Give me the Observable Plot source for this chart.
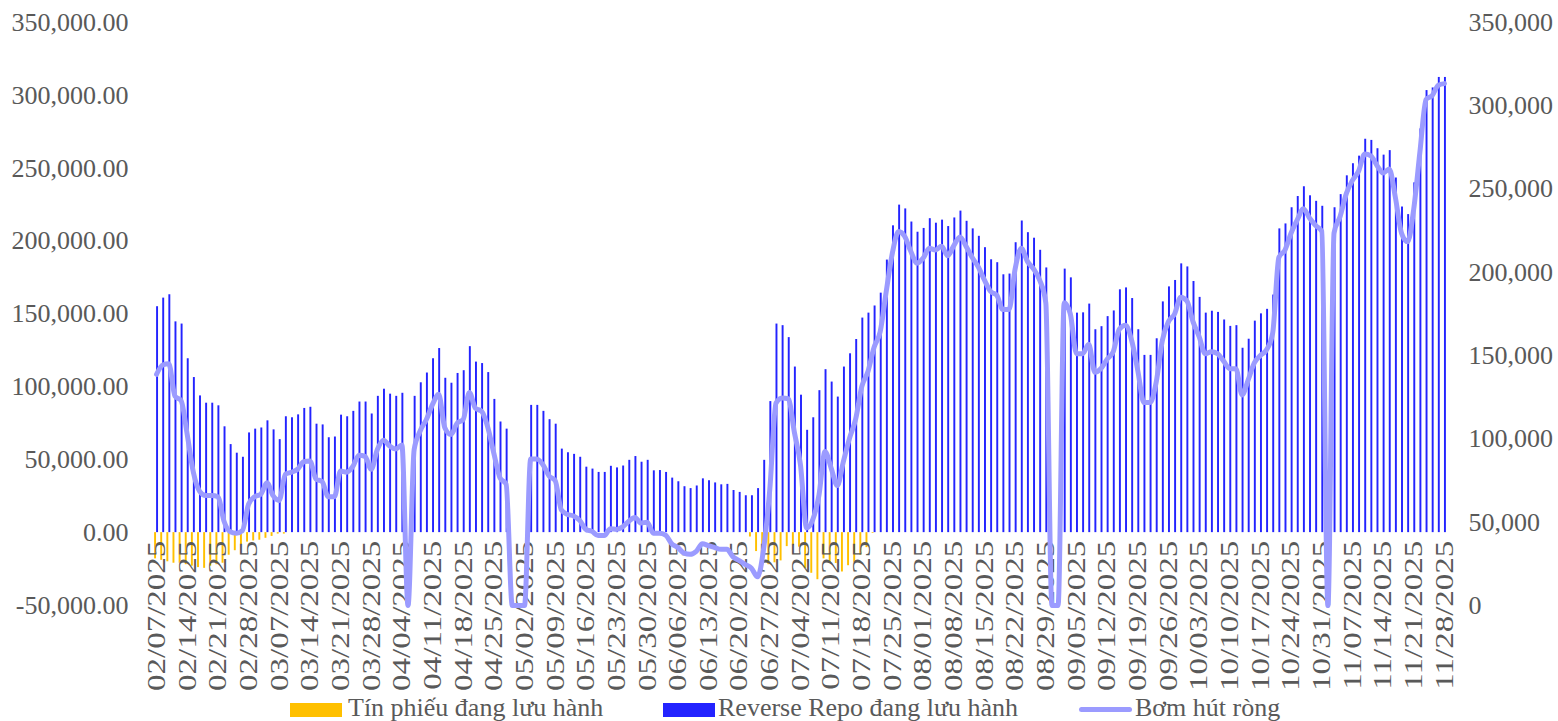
<!DOCTYPE html>
<html>
<head>
<meta charset="utf-8">
<script src="https://cdn.jsdelivr.net/npm/d3@7"></script>
<script src="https://cdn.jsdelivr.net/npm/@observablehq/plot@0.6"></script>
<style>
  html, body { margin: 0; padding: 0; background: #fff; }
  #wrap { position: relative; width: 1558px; height: 721px; overflow: hidden; }
  #legend { position: relative; width: 1558px; height: 31px; font-family: "Liberation Serif", "Times New Roman", serif; font-size: 26px; color: #595959; }
  #legend .sw { position: absolute; }
  #legend .tx { position: absolute; top: 6px; line-height: 24px; white-space: nowrap; }
</style>
</head>
<body>
<div id="wrap">
  <div id="chart"></div>
  <div id="legend">
    <span class="sw" style="left:290px;top:13px;width:52px;height:14px;background:#FFC000"></span>
    <span class="tx" style="left:348px">Tín phiếu đang lưu hành</span>
    <span class="sw" style="left:663px;top:13px;width:52px;height:14px;background:#2323FF"></span>
    <span class="tx" style="left:718px">Reverse Repo đang lưu hành</span>
    <span class="sw" style="left:1079px;top:17px;width:53px;height:5px;border-radius:3px;background:#9B9BFF"></span>
    <span class="tx" style="left:1135px">Bơm hút ròng</span>
  </div>
</div>
<script>
// Categories: trading days (MM/DD, 2025)
const days = [
"02/07",
"02/10","02/11","02/12","02/13","02/14",
"02/17","02/18","02/19","02/20","02/21",
"02/24","02/25","02/26","02/27","02/28",
"03/03","03/04","03/05","03/06","03/07",
"03/10","03/11","03/12","03/13","03/14",
"03/17","03/18","03/19","03/20","03/21",
"03/24","03/25","03/26","03/27","03/28",
"03/31","04/01","04/02","04/03","04/04",
"04/07","04/08","04/09","04/10","04/11",
"04/14","04/15","04/16","04/17","04/18",
"04/21","04/22","04/23","04/24","04/25",
"04/28","04/29","04/30","05/01","05/02",
"05/05","05/06","05/07","05/08","05/09",
"05/12","05/13","05/14","05/15","05/16",
"05/19","05/20","05/21","05/22","05/23",
"05/26","05/27","05/28","05/29","05/30",
"06/02","06/03","06/04","06/05","06/06",
"06/09","06/10","06/11","06/12","06/13",
"06/16","06/17","06/18","06/19","06/20",
"06/23","06/24","06/25","06/26","06/27",
"06/30","07/01","07/02","07/03","07/04",
"07/07","07/08","07/09","07/10","07/11",
"07/14","07/15","07/16","07/17","07/18",
"07/21","07/22","07/23","07/24","07/25",
"07/28","07/29","07/30","07/31","08/01",
"08/04","08/05","08/06","08/07","08/08",
"08/11","08/12","08/13","08/14","08/15",
"08/18","08/19","08/20","08/21","08/22",
"08/25","08/26","08/27","08/28","08/29",
"09/01","09/02","09/03","09/04","09/05",
"09/08","09/09","09/10","09/11","09/12",
"09/15","09/16","09/17","09/18","09/19",
"09/22","09/23","09/24","09/25","09/26",
"09/29","09/30","10/01","10/02","10/03",
"10/06","10/07","10/08","10/09","10/10",
"10/13","10/14","10/15","10/16","10/17",
"10/20","10/21","10/22","10/23","10/24",
"10/27","10/28","10/29","10/30","10/31",
"11/03","11/04","11/05","11/06","11/07",
"11/10","11/11","11/12","11/13","11/14",
"11/17","11/18","11/19","11/20","11/21",
"11/24","11/25","11/26","11/27","11/28"
];
const year = "2025";

// Tick labels (Fridays)
const tickDays = ["02/07","02/14","02/21","02/28","03/07","03/14","03/21","03/28","04/04","04/11","04/18","04/25",
"05/02","05/09","05/16","05/23","05/30","06/06","06/13","06/20","06/27","07/04","07/11","07/18","07/25",
"08/01","08/08","08/15","08/22","08/29","09/05","09/12","09/19","09/26","10/03","10/10","10/17","10/24",
"10/31","11/07","11/14","11/21","11/28"];

// Reverse Repo đang lưu hành (left axis)
const repo = [
155000,160900,163200,144600,143100,119300,106400,93800,88800,88800,
87000,72600,60400,54500,51700,68400,71000,71800,76700,70500,
63800,79500,78800,80800,85200,86000,74400,73900,65100,65600,
80600,79500,83200,89600,89600,81400,93500,98400,95000,93500,
95600,0,93500,102800,109500,119300,126300,105900,102500,109200,
111100,127600,117000,116000,109800,91400,75900,71000,0,0,
0,87300,87300,83200,77500,74400,57300,54800,53700,51700,
44900,43600,41300,41300,45500,44400,45700,49600,52200,48300,
49600,42400,42600,41300,37400,34900,31500,30200,32000,36900,
35600,34100,32800,33100,28900,27600,25300,25300,30200,49600,
89900,143100,142000,133800,113600,94300,70200,78800,97400,111800,
103300,93000,113600,122700,132500,147200,150600,155500,164300,187000,
210500,224700,222100,213100,206100,208700,215400,212300,214400,210000,
215900,220600,213600,208400,203300,195500,187200,185200,176900,177400,
198900,213800,205800,202000,193700,181600,0,0,180800,174800,
150600,150800,156800,139200,141300,148200,152100,166600,167900,160600,
139200,121600,121600,133000,158300,168600,173000,184400,182300,172300,
161400,150600,151900,151100,145900,141500,142000,126500,132700,145100,
150100,153200,163000,208400,211800,222900,230600,237300,231100,227300,
223900,0,222900,231900,244800,253100,258300,269900,269100,263400,
259000,262100,243300,223400,218200,240000,277000,303300,305100,312300,
312300
];

// Tín phiếu đang lưu hành (left axis, negative)
const tinPhieu = [
-18000,-19000,-20000,-21000,-21000,-22000,-23000,-24000,-24500,-23000,
-22000,-21000,-15500,-12400,-8300,-6500,-5700,-5200,-3900,-2600,
-1000,-1000,0,0,0,0,0,0,0,0,
0,0,0,0,0,0,0,0,0,0,
0,0,0,0,0,0,0,0,0,0,
0,0,0,0,0,0,0,0,0,0,
0,0,0,0,0,0,0,0,0,0,
0,0,0,0,0,0,0,0,0,0,
0,0,0,0,0,0,0,0,0,0,
0,0,0,0,0,0,0,-3000,-13000,-15500,
-22000,-20700,-19400,-9600,-9000,-10000,-24500,-27900,-32300,-18000,
-20700,-21200,-27000,-22700,-20700,-15500,-10300,-500,0,0,
0,0,0,0,0,0,0,0,0,0,
0,0,0,0,0,0,0,0,0,0,
0,0,0,0,0,0,0,0,0,0,
0,0,0,0,0,0,0,0,0,0,
0,0,0,0,0,0,0,0,0,0,
0,0,0,0,0,0,0,0,0,0,
0,0,0,0,0,0,0,0,0,0,
0,0,0,0,0,0,0,0,0,0,
0,0,0,0,0,0,0,0,0,0,
0
];

// Bơm hút ròng (right axis)
const bomHutRong = [
138800,144400,145100,125700,123000,102600,80000,68700,66000,66000,
65300,50600,44300,43400,45000,60800,65300,66900,73700,66000,
63100,78900,80000,81800,86300,86800,75900,74400,65300,65300,
80700,80000,83400,90200,89500,81800,93600,99200,95800,94000,
96300,0,93600,104900,111700,120700,126800,106700,102600,109400,
111700,127900,118400,116600,107100,91300,76600,72800,0,0,
0,87900,87900,84500,77800,75000,57400,54700,53800,51100,
45700,44500,42000,42000,46100,45700,47200,50600,52900,49500,
50000,43400,43400,42300,37100,34800,31400,30700,32500,37100,
35900,34800,33700,33700,29200,26900,24600,22400,17200,34500,
70000,121500,124500,124100,104000,84300,46500,51500,66000,92500,
82500,72000,86500,100500,112000,131500,140500,155000,164500,189000,
212000,224500,221500,212500,205500,208500,214500,213400,215600,210000,
216100,221300,215600,208900,203200,195300,188500,186300,177700,177700,
202100,214500,206600,202100,195300,181700,0,0,181700,175000,
151200,151200,156800,140000,142300,147900,152400,165900,168200,159100,
141000,121800,121800,134000,159100,170400,175000,185100,182900,170400,
161400,151200,152400,151200,146700,142200,142200,126400,135400,145600,
150100,153500,163700,208900,213400,223600,231500,238200,232600,228100,
224700,0,223600,233700,247300,255200,260800,271000,269900,264200,
259700,262000,245000,223600,218400,238200,272200,303800,306100,312400,
313300
];

// Axis ticks
const leftTicks = [-50000, 0, 50000, 100000, 150000, 200000, 250000, 300000, 350000];
const rightTicks = [0, 50000, 100000, 150000, 200000, 250000, 300000, 350000];

// Build table
const dates = days.map(d => d + "/" + year);
const ticks = tickDays.map(d => d + "/" + year);
const data = dates.map((date, i) => ({date, repo: repo[i], tin: tinPhieu[i], net: bomHutRong[i]}));

// Right axis [0, 350000] mapped onto left axis [-50000, 350000]
const L0 = -50000, L1 = 350000, R0 = 0, R1 = 350000;
const toLeft = v => L0 + (v - R0) * (L1 - L0) / (R1 - R0);
const toRight = v => R0 + (v - L0) * (R1 - R0) / (L1 - L0);

const fmtLeft = d => d3.format(",.2f")(d).replace("\u2212", "-");
const fmtRight = d => d3.format(",")(Math.round(toRight(d)));

const H = 690;
const chart = Plot.plot({
  width: 1558,
  height: H,
  marginLeft: 153,
  marginRight: 111,
  marginTop: 22,
  marginBottom: H - 605,
  style: {fontFamily: "'Liberation Serif', 'Times New Roman', serif", fontSize: "26px", color: "#595959", background: "transparent", overflow: "visible"},
  x: {type: "band", domain: dates, padding: 0, round: false, axis: null},
  y: {domain: [L0, L1], axis: null},
  marks: [
    Plot.axisY(leftTicks, {anchor: "left", tickSize: 0, tickPadding: 25, tickFormat: fmtLeft}),
    Plot.axisY(rightTicks.map(toLeft), {anchor: "right", tickSize: 0, tickPadding: 21, tickFormat: fmtRight}),
    Plot.barY(data, {x: "date", y: "tin", fill: "#FFC000", insetLeft: 1.1, insetRight: 3.1}),
    Plot.barY(data, {x: "date", y: "repo", fill: "#2323FF", insetLeft: 3.1, insetRight: 1.1}),
    Plot.text(ticks, {x: d => d, y: 0, text: d => d, rotate: -90, textAnchor: "end", lineAnchor: "middle", dy: 8, fill: "#595959", className: "xlab"}),
    Plot.line(data, {x: "date", y: d => toLeft(d.net), stroke: "#9B9BFF", strokeWidth: 5, strokeLinejoin: "round", strokeLinecap: "round", curve: "monotone-x"})
  ]
});
// stretch the rotated date labels along their reading direction, as in the original
d3.select(chart).selectAll("g.xlab text").each(function() {
  const t = this.getAttribute("transform") || "";
  this.setAttribute("transform", t + " scale(1.27,1)");
});
document.getElementById("chart").appendChild(chart);
</script>
</body>
</html>
